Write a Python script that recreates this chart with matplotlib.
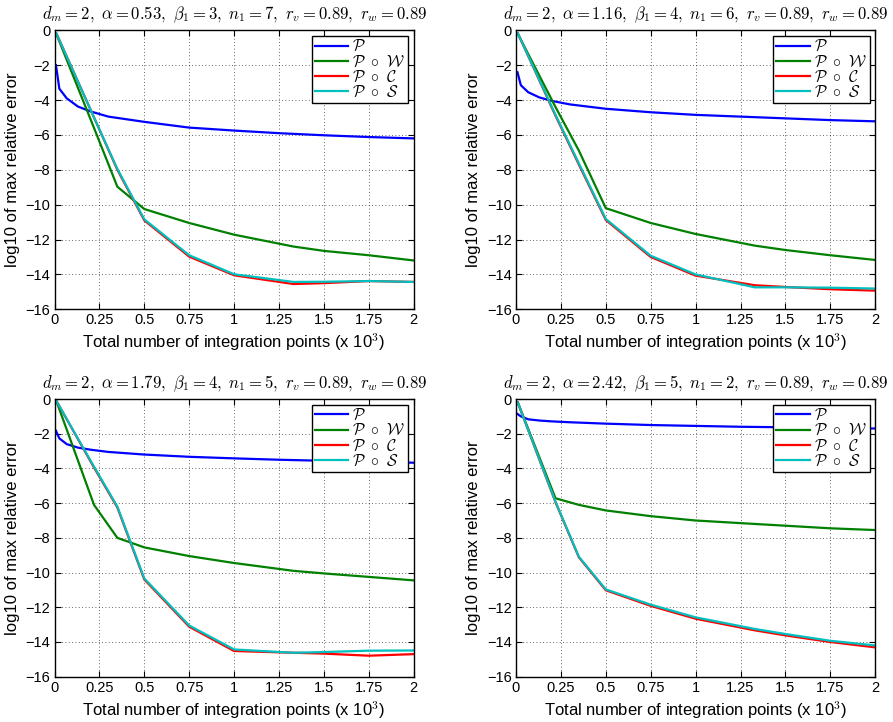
import matplotlib
matplotlib.use("Agg")
import matplotlib.pyplot as plt

plt.rcParams['mathtext.fontset'] = 'cm'
plt.rcParams['font.family'] = ['Liberation Sans', 'DejaVu Sans']

# panel parameters
alpha_vals = [0.53, 1.16, 1.79, 2.42]
beta_vals = [3, 4, 4, 5]
n1_vals = [7, 6, 5, 2]

# shared x grids (x 10^3 integration points)
x_p = [0.008, 0.027, 0.068, 0.13, 0.2, 0.3, 0.5, 0.75, 1.0, 1.25, 1.5, 1.75, 2.0]
x_s = [0.01, 0.22, 0.35, 0.5, 0.75, 1.0, 1.33, 1.5, 1.75, 2.0]

# panel 1 (top-left)
p1_P = [-2.0, -3.35, -3.9, -4.37, -4.65, -4.95, -5.25, -5.58, -5.75, -5.9, -6.02, -6.12, -6.2]
p1_W = [-0.2, -5.6, -8.97, -10.25, -11.05, -11.72, -12.4, -12.65, -12.9, -13.2]
p1_C = [-0.17, -5.0, -8.0, -10.9, -12.98, -14.05, -14.55, -14.5, -14.38, -14.43]
p1_S = [-0.17, -5.0, -7.95, -10.84, -12.9, -13.99, -14.43, -14.42, -14.38, -14.43]

# panel 2 (top-right)
p2_P = [-2.4, -3.15, -3.55, -3.85, -4.05, -4.25, -4.5, -4.7, -4.85, -4.95, -5.05, -5.15, -5.22]
p2_W = [-0.2, -4.4, -6.9, -10.2, -11.05, -11.68, -12.35, -12.6, -12.9, -13.17]
p2_C = [-0.17, -4.9, -7.7, -10.88, -13.0, -14.07, -14.62, -14.72, -14.85, -14.93]
p2_S = [-0.17, -4.85, -7.63, -10.82, -12.93, -14.0, -14.74, -14.74, -14.76, -14.81]

# panel 3 (bottom-left)
p3_P = [-1.83, -2.27, -2.6, -2.8, -2.92, -3.05, -3.2, -3.33, -3.42, -3.5, -3.56, -3.62, -3.67]
p3_W = [-0.1, -6.1, -8.0, -8.55, -9.05, -9.45, -9.9, -10.05, -10.25, -10.45]
p3_C = [-0.1, -3.95, -6.25, -10.4, -13.12, -14.52, -14.62, -14.67, -14.79, -14.7]
p3_S = [-0.1, -3.9, -6.2, -10.34, -13.05, -14.43, -14.62, -14.58, -14.5, -14.49]

# panel 4 (bottom-right)
p4_P = [-0.86, -1.0, -1.17, -1.24, -1.29, -1.34, -1.42, -1.5, -1.55, -1.6, -1.63, -1.66, -1.7]
p4_W = [-0.2, -5.72, -6.1, -6.42, -6.75, -7.0, -7.2, -7.3, -7.45, -7.55]
p4_C = [-0.2, -5.95, -9.12, -11.02, -11.92, -12.66, -13.33, -13.62, -14.0, -14.31]
p4_S = [-0.2, -5.92, -9.09, -10.97, -11.85, -12.58, -13.25, -13.54, -13.93, -14.2]

series_P = [p1_P, p2_P, p3_P, p4_P]
series_W = [p1_W, p2_W, p3_W, p4_W]
series_C = [p1_C, p2_C, p3_C, p4_C]
series_S = [p1_S, p2_S, p3_S, p4_S]

labels = [r'$\mathcal{P}$', r'$\mathcal{P}\ \circ\ \mathcal{W}$',
          r'$\mathcal{P}\ \circ\ \mathcal{C}$', r'$\mathcal{P}\ \circ\ \mathcal{S}$']
colors = ['#0000ff', '#008000', '#ff0000', '#00bfbf']

xticks = [0, 0.25, 0.5, 0.75, 1, 1.25, 1.5, 1.75, 2]
xticklabels = ['0', '0.25', '0.5', '0.75', '1', '1.25', '1.5', '1.75', '2']
yticks = [0, -2, -4, -6, -8, -10, -12, -14, -16]
yticklabels = ['0', '\u22122', '\u22124', '\u22126', '\u22128', '\u221210', '\u221212', '\u221214', '\u221216']

fig = plt.figure(figsize=(8.93, 7.22), dpi=100)
W_, H_ = 893.0, 722.0
positions = [
    (54.5 / W_, 1 - 309.3 / H_, 359.2 / W_, 279.0 / H_),
    (516.0 / W_, 1 - 309.3 / H_, 359.2 / W_, 279.0 / H_),
    (54.5 / W_, 1 - 676.7 / H_, 359.2 / W_, 277.7 / H_),
    (516.0 / W_, 1 - 676.7 / H_, 359.2 / W_, 277.7 / H_),
]

for i in range(4):
    ax = fig.add_axes(positions[i])
    ys = [series_P[i], series_W[i], series_C[i], series_S[i]]
    xs = [x_p, x_s, x_s, x_s]
    for x, y, c, lab in zip(xs, ys, colors, labels):
        ax.plot(x, y, color=c, lw=1.6, label=lab)
    ax.set_xlim(0, 2)
    ax.set_ylim(-16, 0)
    ax.set_xticks(xticks)
    ax.set_xticklabels(xticklabels)
    ax.set_yticks(yticks)
    ax.set_yticklabels(yticklabels)
    ax.grid(True, color='black', linestyle=(0, (1, 3)), linewidth=0.6, alpha=0.8)
    ax.tick_params(direction='in', length=4, width=0.8, labelsize=10.5,
                   top=True, right=True, pad=3)
    for s in ax.spines.values():
        s.set_linewidth(1.0)
    ax.set_ylabel('log10 of max relative error', fontsize=12, labelpad=4)
    ax.set_xlabel(r'Total number of integration points (x 10$^3$)', fontsize=12, labelpad=3)
    title = (r'$d_m = 2,\ \alpha = %.2f,\ \beta_1 = %d,\ n_1 = %d,\ r_v = 0.89,\ r_w = 0.89$'
             % (alpha_vals[i], beta_vals[i], n1_vals[i]))
    ax.set_title(title, fontsize=12, pad=8)
    leg = ax.legend(loc='upper right', fontsize=11.5, handlelength=2.1, labelspacing=0.0,
                    borderpad=0.2, handletextpad=0.25, borderaxespad=0.35,
                    fancybox=False, framealpha=1, edgecolor='black')
    leg.get_frame().set_linewidth(1.0)

fig.savefig('out.png', dpi=100)
